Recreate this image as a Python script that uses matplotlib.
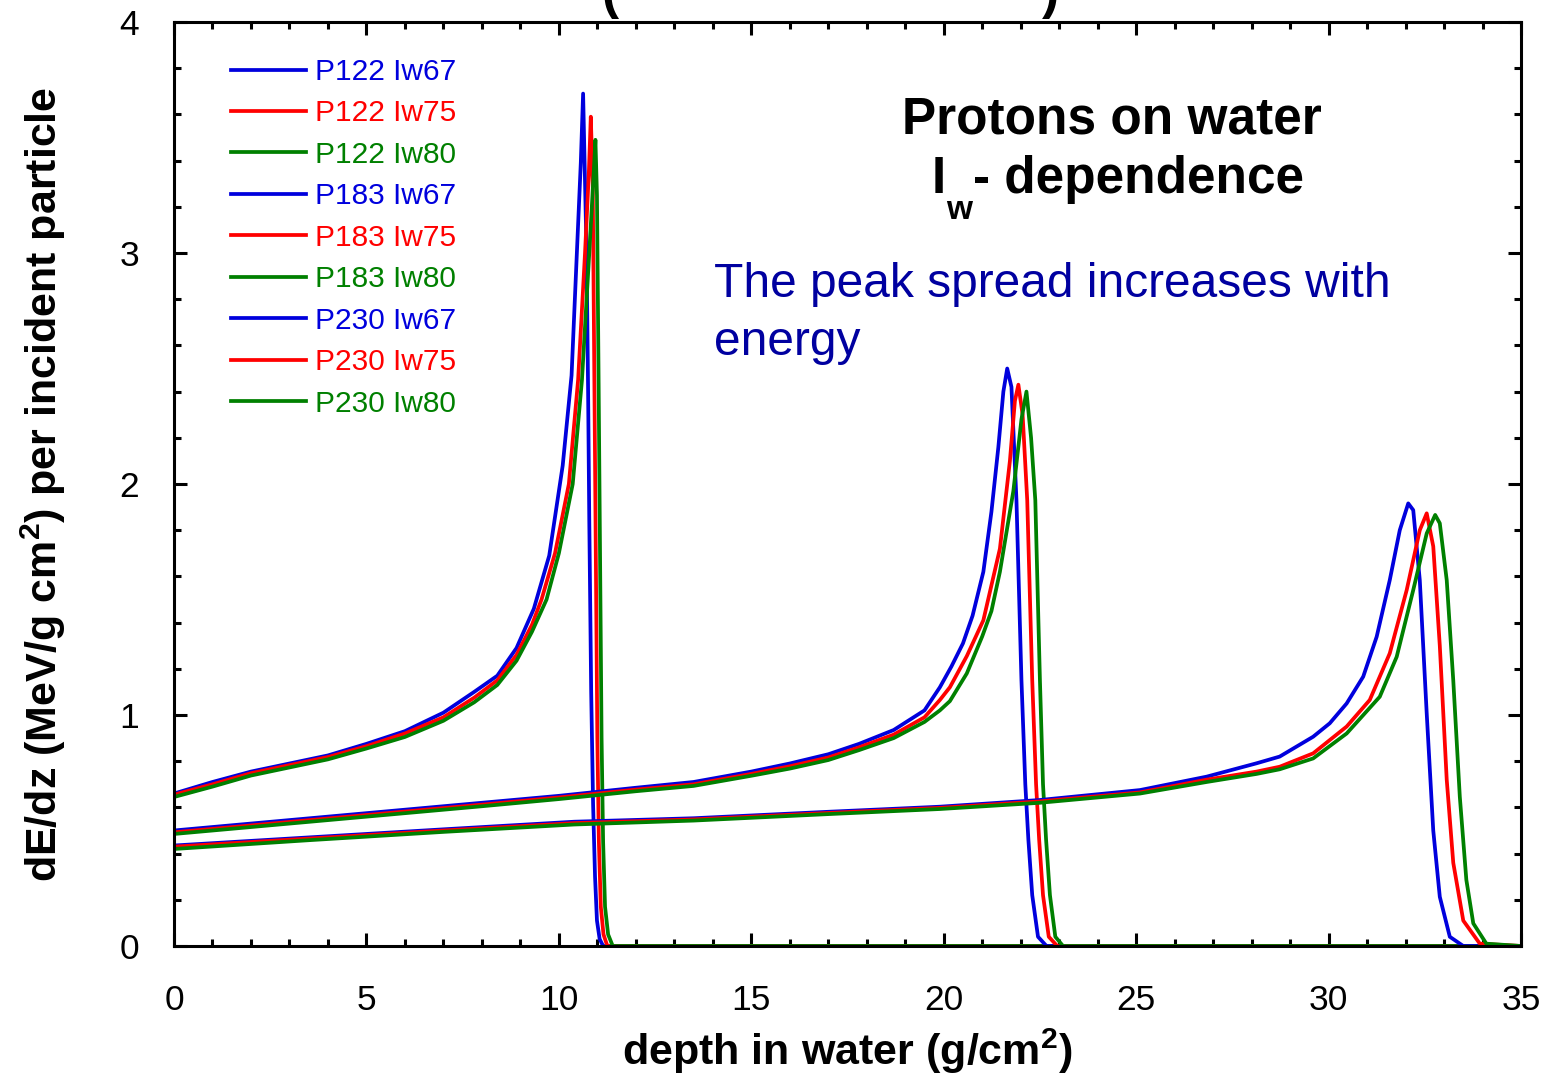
import numpy as np
import matplotlib.pyplot as plt
from matplotlib.ticker import MultipleLocator

plt.rcParams['font.family'] = ['Liberation Sans', 'DejaVu Sans']
plt.rcParams['mathtext.fontset'] = 'custom'
plt.rcParams['mathtext.rm'] = 'Liberation Sans'
plt.rcParams['mathtext.bf'] = 'Liberation Sans:bold'

# --- P122 (Bragg peak near 10.7 g/cm2) ---
x_p122_67 = [0, 1, 2, 3, 4, 5, 6, 7, 7.8, 8.4, 8.9, 9.35, 9.75, 10.1, 10.33, 10.46, 10.57, 10.63,
             10.72, 10.76, 10.79, 10.84, 10.89, 10.94, 10.99, 11.06, 11.15, 35]
y_p122_67 = [0.66, 0.71, 0.755, 0.79, 0.825, 0.875, 0.93, 1.01, 1.10, 1.17, 1.29, 1.46, 1.69, 2.08, 2.47, 2.97, 3.39, 3.69,
             3.0, 2.4, 1.85, 1.1, 0.61, 0.3, 0.11, 0.03, 0.0, 0.0]
x_p122_75 = [0, 1, 2, 3, 4, 5, 6, 7, 7.8, 8.4, 8.9, 9.3, 9.55, 9.9, 10.26, 10.5, 10.68, 10.78, 10.83,
             10.88, 10.92, 10.96, 11.0, 11.04, 11.09, 11.16, 11.26, 35]
y_p122_75 = [0.655, 0.70, 0.748, 0.783, 0.818, 0.865, 0.92, 0.99, 1.075, 1.15, 1.26, 1.39, 1.50, 1.70, 2.00, 2.45, 3.00, 3.35, 3.59,
             3.30, 2.50, 1.70, 0.90, 0.45, 0.17, 0.05, 0.0, 0.0]
x_p122_80 = [0, 1, 2, 3, 4, 5, 6, 7, 7.8, 8.4, 8.9, 9.3, 9.68, 10.0, 10.36, 10.6, 10.79, 10.9, 10.95,
             10.99, 11.03, 11.07, 11.11, 11.15, 11.2, 11.28, 11.4, 35]
y_p122_80 = [0.645, 0.69, 0.738, 0.773, 0.808, 0.855, 0.905, 0.975, 1.055, 1.13, 1.235, 1.36, 1.50, 1.70, 2.00, 2.45, 3.00, 3.33, 3.49,
             3.25, 2.50, 1.70, 0.90, 0.45, 0.17, 0.05, 0.0, 0.0]

# --- P183 (Bragg peak near 21.7 g/cm2) ---
x_p183_67 = [0, 2, 4, 6, 8, 10, 12, 13.5, 15, 16, 17, 17.8, 18.7, 19.5, 19.9, 20.2, 20.5, 20.75, 21.03, 21.24, 21.42, 21.55, 21.65,
             21.76, 21.89, 22.02, 22.12, 22.2, 22.3, 22.45, 22.67, 35]
y_p183_67 = [0.50, 0.53, 0.56, 0.59, 0.62, 0.65, 0.685, 0.71, 0.755, 0.79, 0.83, 0.875, 0.935, 1.02, 1.12, 1.21, 1.31, 1.43, 1.62, 1.88, 2.16, 2.40, 2.50,
             2.42, 1.93, 1.15, 0.70, 0.46, 0.22, 0.04, 0.0, 0.0]
x_p183_75 = [0, 2, 4, 6, 8, 10, 12, 13.5, 15, 16, 17, 17.8, 18.7, 19.5, 19.9, 20.16, 20.6, 21.03, 21.46, 21.72, 21.85, 21.94,
             22.05, 22.17, 22.30, 22.40, 22.48, 22.58, 22.73, 22.95, 35]
y_p183_75 = [0.492, 0.522, 0.552, 0.582, 0.612, 0.643, 0.677, 0.70, 0.745, 0.778, 0.816, 0.86, 0.915, 0.99, 1.065, 1.12, 1.255, 1.41, 1.72, 2.10, 2.36, 2.43,
             2.30, 1.93, 1.15, 0.70, 0.46, 0.22, 0.04, 0.0, 0.0]
x_p183_80 = [0, 2, 4, 6, 8, 10, 12, 13.5, 15, 16, 17, 17.8, 18.7, 19.5, 19.9, 20.16, 20.6, 21.0, 21.24, 21.46, 21.81, 22.02, 22.15,
             22.27, 22.38, 22.50, 22.58, 22.66, 22.76, 22.90, 23.1, 35]
y_p183_80 = [0.485, 0.515, 0.545, 0.575, 0.605, 0.636, 0.67, 0.693, 0.737, 0.768, 0.805, 0.848, 0.9, 0.97, 1.02, 1.06, 1.18, 1.34, 1.45, 1.62, 1.97, 2.28, 2.40,
             2.20, 1.93, 1.15, 0.70, 0.46, 0.22, 0.04, 0.0, 0.0]

# --- P230 (Bragg peak near 32.1 g/cm2) ---
x_p230_67 = [0, 3.5, 7, 10.4, 13.5, 17, 19.9, 22.5, 25.1, 26.83, 28.13, 28.73, 29.6, 30.03, 30.47, 30.9, 31.25, 31.59, 31.85, 32.07,
             32.2, 32.37, 32.55, 32.72, 32.89, 33.15, 33.5, 35]
y_p230_67 = [0.435, 0.47, 0.505, 0.538, 0.553, 0.581, 0.603, 0.632, 0.675, 0.733, 0.791, 0.82, 0.906, 0.964, 1.05, 1.166, 1.339, 1.584, 1.80, 1.916,
             1.887, 1.584, 1.007, 0.50, 0.213, 0.04, 0.0, 0.0]
x_p230_75 = [0, 3.5, 7, 10.4, 13.5, 17, 19.9, 22.5, 25.1, 26.83, 28.13, 28.73, 29.6, 30.47, 31.07, 31.59, 32.03, 32.37, 32.55,
             32.72, 32.89, 33.07, 33.24, 33.5, 33.93, 35]
y_p230_75 = [0.43, 0.465, 0.5, 0.532, 0.548, 0.576, 0.598, 0.626, 0.665, 0.72, 0.755, 0.776, 0.834, 0.95, 1.065, 1.267, 1.541, 1.80, 1.873,
             1.73, 1.30, 0.72, 0.36, 0.11, 0.01, 0.0]
x_p230_80 = [0, 3.5, 7, 10.4, 13.5, 17, 19.9, 22.5, 25.1, 26.83, 28.13, 28.73, 29.6, 30.47, 31.33, 31.77, 32.2, 32.55, 32.77,
             32.89, 33.07, 33.24, 33.41, 33.58, 33.76, 34.1, 35]
y_p230_80 = [0.42, 0.458, 0.494, 0.526, 0.543, 0.571, 0.593, 0.62, 0.66, 0.71, 0.745, 0.765, 0.812, 0.92, 1.079, 1.252, 1.541, 1.786, 1.866,
             1.83, 1.584, 1.15, 0.646, 0.286, 0.098, 0.01, 0.0]

labels = ['P122 Iw67', 'P122 Iw75', 'P122 Iw80',
          'P183 Iw67', 'P183 Iw75', 'P183 Iw80',
          'P230 Iw67', 'P230 Iw75', 'P230 Iw80']
xs = [x_p122_67, x_p122_75, x_p122_80, x_p183_67, x_p183_75, x_p183_80, x_p230_67, x_p230_75, x_p230_80]
ys = [y_p122_67, y_p122_75, y_p122_80, y_p183_67, y_p183_75, y_p183_80, y_p230_67, y_p230_75, y_p230_80]
colors = ['#0000DD', '#FF0000', '#008000'] * 3

W, H = 1546, 1075
fig = plt.figure(figsize=(W / 100, H / 100), dpi=100)
ax = fig.add_axes([174 / W, 1 - 946 / H, 1347 / W, 924 / H])

for x, y, lab, c in zip(xs, ys, labels, colors):
    ax.plot(x, y, color=c, lw=2.7, label=lab)

ax.set_xlim(0, 35)
ax.set_ylim(0, 4)
ax.xaxis.set_major_locator(MultipleLocator(5))
ax.xaxis.set_minor_locator(MultipleLocator(1))
ax.yaxis.set_major_locator(MultipleLocator(1))
ax.yaxis.set_minor_locator(MultipleLocator(0.2))
ax.tick_params(which='both', direction='in', top=True, right=True, width=2.2, labelsize=25.5)
ax.tick_params(axis='x', pad=27)
ax.tick_params(axis='y', pad=25)
ax.tick_params(which='major', length=9.5)
ax.tick_params(which='minor', length=5)
for s in ax.spines.values():
    s.set_linewidth(2.2)

ax.set_xlabel(r'depth in water (g/cm$^\mathbf{2}$)', fontsize=31, fontweight='bold')
ax.xaxis.set_label_coords(0.5, -0.087)
ax.set_ylabel(r'dE/dz (MeV/g cm$^\mathbf{2}$) per incident particle', fontsize=31, fontweight='bold')
ax.yaxis.set_label_coords(-0.079, 0.5)

ax.legend(loc='upper left', bbox_to_anchor=(0.0423, 0.961), frameon=False, fontsize=21.5,
          handlelength=2.5, handletextpad=0.33, labelspacing=0.45, borderpad=0, borderaxespad=0,
          labelcolor='linecolor')

# annotations
fig.text(1112 / W, 1 - 133 / H, 'Protons on water', fontsize=37, fontweight='bold', ha='center', va='baseline')
fig.text(932 / W, 1 - 193 / H, 'I', fontsize=37, fontweight='bold', ha='left', va='baseline')
fig.text(946 / W, 1 - 219 / H, 'w', fontsize=24, fontweight='bold', ha='left', va='baseline')
fig.text(973 / W, 1 - 193 / H, '- dependence', fontsize=37, fontweight='bold', ha='left', va='baseline')
fig.text(714 / W, 1 - 297 / H, 'The peak spread increases with', fontsize=34.5, color='#0000A0', ha='left', va='baseline')
fig.text(714 / W, 1 - 355 / H, 'energy', fontsize=34.5, color='#0000A0', ha='left', va='baseline')

# bottom of a title that is cropped in the reference
fig.text(610 / W, 1 - 8 / H, '(', fontsize=37, fontweight='bold', ha='center', va='baseline')
fig.text(1050 / W, 1 - 8 / H, ')', fontsize=37, fontweight='bold', ha='center', va='baseline')

fig.savefig('out.png', dpi=100)
